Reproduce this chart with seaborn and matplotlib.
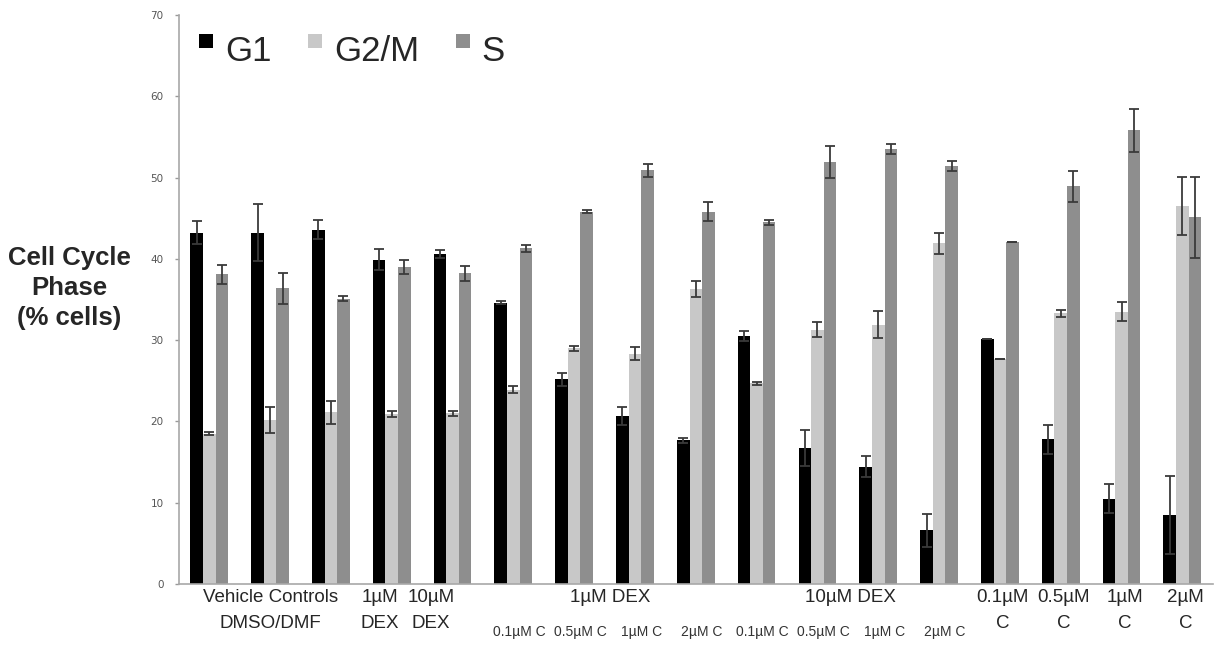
import numpy as np
import pandas as pd
import matplotlib
matplotlib.use("Agg")
import matplotlib.pyplot as plt
import matplotlib.transforms as mtransforms
from matplotlib.lines import Line2D
from matplotlib.path import Path
import seaborn as sns

# Cell cycle distribution per treatment
conditions = ["DMSO/DMF 1", "DMSO/DMF 2", "DMSO/DMF 3", "1uM DEX", "10uM DEX",
              "1DEX 0.1C", "1DEX 0.5C", "1DEX 1C", "1DEX 2C",
              "10DEX 0.1C", "10DEX 0.5C", "10DEX 1C", "10DEX 2C",
              "0.1C", "0.5C", "1C", "2C"]
phases = ["G1", "G2/M", "S"]

g1 = [43.2, 43.2, 43.6, 39.9, 40.6, 34.6, 25.2, 20.7, 17.7, 30.5, 16.7, 14.4, 6.6, 30.1, 17.8, 10.5, 8.5]
g1_err = [1.4, 3.5, 1.2, 1.3, 0.5, 0.2, 0.8, 1.1, 0.3, 0.6, 2.2, 1.3, 2.0, 0.0, 1.8, 1.8, 4.8]
g2m = [18.5, 20.2, 21.1, 20.9, 21.0, 23.9, 29.0, 28.3, 36.3, 24.7, 31.3, 31.9, 41.9, 27.7, 33.3, 33.5, 46.5]
g2m_err = [0.15, 1.6, 1.4, 0.4, 0.3, 0.4, 0.3, 0.8, 1.0, 0.2, 0.9, 1.7, 1.3, 0.0, 0.4, 1.2, 3.6]
s_phase = [38.1, 36.4, 35.1, 39.0, 38.2, 41.3, 45.8, 50.9, 45.8, 44.5, 51.9, 53.5, 51.4, 42.1, 48.9, 55.8, 45.1]
s_err = [1.2, 1.9, 0.3, 0.9, 0.9, 0.4, 0.2, 0.8, 1.2, 0.3, 2.0, 0.6, 0.6, 0.0, 1.9, 2.6, 5.0]

colors = ["#000000", "#c8c8c8", "#8e8e8e"]

df = pd.DataFrame({
    "condition": conditions * 3,
    "phase": np.repeat(phases, len(conditions)),
    "value": g1 + g2m + s_phase,
})
errors = [g1_err, g2m_err, s_err]

sns.set_style("white")
plt.rcParams["font.family"] = ["Liberation Sans", "DejaVu Sans"]

fig = plt.figure(figsize=(12.25, 6.49), dpi=100)
ax = fig.add_axes([0.146, 0.1002, 0.844, 0.8767])

sns.barplot(data=df, x="condition", y="value", hue="phase", order=conditions,
            hue_order=phases, palette=colors, width=0.62, saturation=1,
            errorbar=None, legend=False, linewidth=0, ax=ax)

# error bars on top of each bar
for cont, err in zip(ax.containers, errors):
    xs = [p.get_x() + p.get_width() / 2 for p in cont]
    ys = [p.get_height() for p in cont]
    ax.errorbar(xs, ys, yerr=err, fmt="none", ecolor="#3a3a3a",
                elinewidth=1.3, capsize=3.5, capthick=1.3)

ax.set_ylim(0, 70)
ax.set_xlim(-0.5, len(conditions) - 0.5)
ax.set_yticks(range(0, 71, 10))
ax.set_xlabel("")
ax.set_ylabel("")
ax.set_xticks(range(len(conditions)))
ax.set_xticklabels([])
ax.set_xticks(np.arange(0.5, len(conditions) - 0.5, 1), minor=True)
ax.tick_params(axis="x", which="major", length=0)
ax.tick_params(axis="x", which="minor", length=4, color="#999999", width=1, direction="out")
ax.tick_params(axis="y", length=3, color="#999999", width=1, direction="out",
               pad=8, labelsize=7.5, labelcolor="#555555", left=True)
for lab in ax.get_yticklabels():
    lab.set_family(["DejaVu Sans"])
for side in ["top", "right"]:
    ax.spines[side].set_visible(False)
for side in ["left", "bottom"]:
    ax.spines[side].set_color("#a8a8a8")
    ax.spines[side].set_linewidth(1.2)

# y label
fig.text(0.0567, 0.556, "Cell Cycle\nPhase\n(% cells)", ha="center", va="center",
         fontsize=18.5, fontweight="bold", linespacing=1.33, multialignment="center")

# grouped x labels
trans = mtransforms.blended_transform_factory(ax.transData, fig.transFigure)
big = 13.5
small = 10
ax.text(1.0, 0.0786, "Vehicle Controls", transform=trans, ha="center", va="center", fontsize=big)
ax.text(1.0, 0.040, "DMSO/DMF", transform=trans, ha="center", va="center", fontsize=big)
for x, top, bottom in [(2.8, "1µM", "DEX"), (3.65, "10µM", "DEX")]:
    ax.text(x, 0.0786, top, transform=trans, ha="center", va="center", fontsize=big)
    ax.text(x, 0.040, bottom, transform=trans, ha="center", va="center", fontsize=big)
combo_doses = ["0.1µM C", "0.5µM C", "1µM C", "2µM C"]
for start, name, cx in [(5, "1µM DEX", 6.6), (9, "10µM DEX", 10.55)]:
    ax.text(cx, 0.0786, name, transform=trans, ha="center", va="center", fontsize=big)
    for k, d in enumerate(combo_doses):
        ax.text(start + k + 0.1, 0.026, d, transform=trans, ha="center", va="center",
                fontsize=small, color="#333333")
for k, d in enumerate(["0.1µM", "0.5µM", "1µM", "2µM"]):
    ax.text(13 + k + 0.05, 0.0786, d, transform=trans, ha="center", va="center", fontsize=big)
    ax.text(13 + k + 0.05, 0.040, "C", transform=trans, ha="center", va="center", fontsize=big)

# legend with raised square markers
a = 0.1
raised_sq = Path([(-0.5, a), (0.5, a), (0.5, a + 1), (-0.5, a + 1), (-0.5, a)],
                 [Path.MOVETO, Path.LINETO, Path.LINETO, Path.LINETO, Path.CLOSEPOLY])
handles = [Line2D([], [], linestyle="", marker=raised_sq, markersize=21,
                  markerfacecolor=c, markeredgewidth=0) for c in colors]
ax.legend(handles, phases, loc="upper left", bbox_to_anchor=(0.018, 0.965), ncol=3,
          frameon=False, fontsize=25, handlelength=0.5, handletextpad=0.3,
          columnspacing=1.0, borderpad=0, borderaxespad=0)

fig.savefig("out.png", dpi=100)
